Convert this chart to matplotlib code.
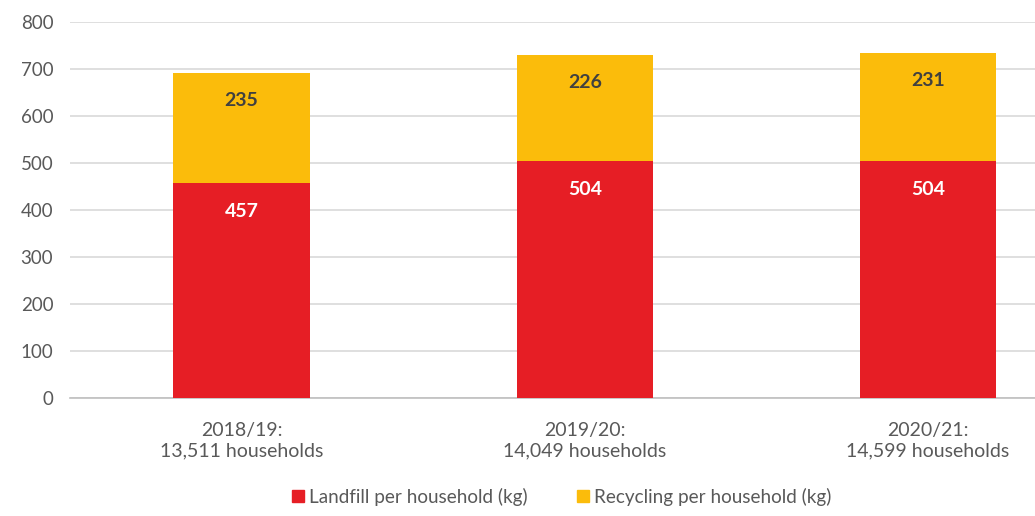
import matplotlib
matplotlib.use("Agg")
import matplotlib.pyplot as plt
from matplotlib.patches import Patch
import numpy as np

plt.rcParams['font.family'] = ['Lato', 'DejaVu Sans']

categories = ["2018/19:\n13,511 households", "2019/20:\n14,049 households", "2020/21:\n14,599 households"]
landfill = [457, 504, 504]
recycling = [235, 226, 231]
series_names = ["Landfill per household (kg)", "Recycling per household (kg)"]
yticks = [0, 100, 200, 300, 400, 500, 600, 700, 800]

RED = "#E61E25"
YELLOW = "#FBBC0B"
TXT = "#595959"

W, H = 1035, 516
fig = plt.figure(figsize=(W/100, H/100), dpi=100)
ax = fig.add_axes([70/W, (H-398)/H, (W-70)/W, 376/H])

x = np.arange(len(categories))
bw = 0.397
ax.bar(x, landfill, bw, color=RED, zorder=3)
ax.bar(x, recycling, bw, bottom=landfill, color=YELLOW, zorder=3)

for xi, l, r in zip(x, landfill, recycling):
    ax.annotate(f"{l}", (xi, l), xytext=(0, -28), textcoords="offset pixels",
                ha="center", va="center", color="white", fontweight="bold", fontsize=14, zorder=4)
    ax.annotate(f"{r}", (xi, l + r), xytext=(0, -28), textcoords="offset pixels",
                ha="center", va="center", color="#404040", fontweight="bold", fontsize=14, zorder=4)

ax.set_ylim(0, 800)
ax.set_xlim(-0.5, 2.5 - (1099.5 - 1035) / 343)
ax.set_yticks(yticks)
ax.yaxis.grid(True, color="#D9D9D9", linewidth=1.2, zorder=0)
ax.set_axisbelow(True)
for s in ["top", "right", "left"]:
    ax.spines[s].set_visible(False)
ax.spines["bottom"].set_color("#BFBFBF")
ax.spines["bottom"].set_linewidth(1.2)
ax.tick_params(axis="both", length=0, colors=TXT)
ax.tick_params(axis="y", pad=12, labelsize=13.5)
ax.tick_params(axis="x", pad=17)
ax.set_xticks(x)
ax.set_xticklabels(categories, fontsize=14, color=TXT, linespacing=1.25)

handles = [Patch(color=RED), Patch(color=YELLOW)]
fig.legend(handles, series_names, loc="center", bbox_to_anchor=(562/W, 1 - 497/H), ncol=2,
           frameon=False, fontsize=13.6, labelcolor=TXT, handlelength=0.6, handleheight=0.6,
           handletextpad=0.3, columnspacing=2.6)

fig.savefig("out.png", dpi=100)
